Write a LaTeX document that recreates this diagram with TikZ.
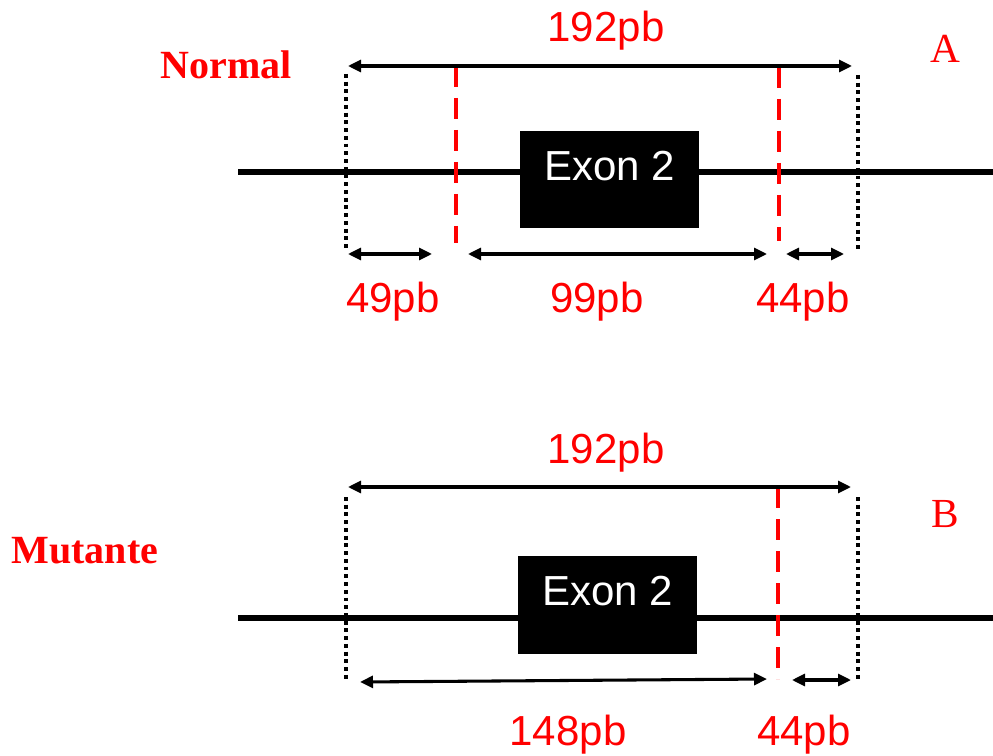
\documentclass[tikz,border=0pt]{standalone}
\usepackage{fontspec}
\setmainfont{Liberation Serif}
\setsansfont{Liberation Sans}
\usetikzlibrary{arrows.meta}
\definecolor{lbl}{RGB}{255,0,0}
\tikzset{
  px/.style={x=0.75pt,y=-0.75pt},
  dna/.style={line width=5pt,black},
  dimarrow/.style={line width=2.3pt,black,{Triangle[length=9.75pt,width=9pt]}-{Triangle[length=9.75pt,width=9pt]}},
  cutline/.style={line width=3pt,lbl,dash pattern=on 16pt off 8pt},
  boundline/.style={line width=2.9pt,black,dash pattern=on 2.9pt off 2.9pt},
  exonbox/.style={fill=black,draw=none,minimum width=134.25pt,minimum height=73pt,inner sep=0pt},
  exontext/.style={anchor=base,text=white,font=\sffamily\fontsize{31.5pt}{36pt}\selectfont,inner sep=0pt},
  sizelabel/.style={anchor=base,text=lbl,font=\sffamily\fontsize{31.5pt}{36pt}\selectfont,inner sep=0pt},
  rowlabel/.style={anchor=base,text=lbl,font=\bfseries\fontsize{30pt}{34pt}\selectfont,inner sep=0pt},
  panellabel/.style={anchor=base,text=lbl,font=\fontsize{31pt}{34pt}\selectfont,inner sep=0pt}
}
\begin{document}
\begin{tikzpicture}[px]
\useasboundingbox[fill=white] (0,0) rectangle (993,756);
% ---------------- Panel A ----------------
\coordinate (lA1) at (238,172); \coordinate (lA2) at (993,172);
\draw[dna] (lA1) -- (lA2);
\node[exonbox] (exA) at (609.5,179.5) {};
\node[exontext] (exAt) at (610,181) {Exon 2};
% boundaries
\coordinate (dAl1) at (346,74); \coordinate (dAl2) at (346,251);
\coordinate (dAr1) at (858,75); \coordinate (dAr2) at (858,251);
\draw[boundline] (dAl1) -- (dAl2);
\draw[boundline] (dAr1) -- (dAr2);
% cut sites
\coordinate (cAl1) at (456,66); \coordinate (cAl2) at (456,243);
\coordinate (cAr1) at (779,67); \coordinate (cAr2) at (779,241);
\draw[cutline] (cAl1) -- (cAl2);
\draw[cutline] (cAr1) -- (cAr2);
% dimension arrows
\coordinate (tA1) at (348,66); \coordinate (tA2) at (852,66);
\draw[dimarrow] (tA1) -- (tA2);
\coordinate (bA1) at (348,254); \coordinate (bA2) at (432,254);
\coordinate (bA3) at (468,254); \coordinate (bA4) at (767,254);
\coordinate (bA5) at (786,254); \coordinate (bA6) at (844,254);
\draw[dimarrow] (bA1) -- (bA2);
\draw[dimarrow] (bA3) -- (bA4);
\draw[dimarrow] (bA5) -- (bA6);
% labels
\node[sizelabel] (sA0) at (606,42) {192pb};
\node[sizelabel] (sA1) at (393,312) {49pb};
\node[sizelabel] (sA2) at (597,312) {99pb};
\node[sizelabel] (sA3) at (803,312) {44pb};
\node[rowlabel] (rA) at (226,79) {Normal};
\node[panellabel] (pA) at (945,63) {A};
% ---------------- Panel B ----------------
\coordinate (lB1) at (238,618); \coordinate (lB2) at (993,618);
\draw[dna] (lB1) -- (lB2);
\node[exonbox] (exB) at (607.5,605) {};
\node[exontext] (exBt) at (608,605) {Exon 2};
\coordinate (dBl1) at (346,497); \coordinate (dBl2) at (346,679);
\coordinate (dBr1) at (858,497); \coordinate (dBr2) at (858,679);
\draw[boundline] (dBl1) -- (dBl2);
\draw[boundline] (dBr1) -- (dBr2);
\coordinate (cBr1) at (778,487); \coordinate (cBr2) at (778,679);
\draw[cutline] (cBr1) -- (cBr2);
\coordinate (tB1) at (348,487); \coordinate (tB2) at (851,487);
\draw[dimarrow] (tB1) -- (tB2);
\coordinate (bB1) at (360,682); \coordinate (bB2) at (767,679);
\coordinate (bB3) at (792,680); \coordinate (bB4) at (851,680);
\draw[dimarrow] (bB1) -- (bB2);
\draw[dimarrow] (bB3) -- (bB4);
\node[sizelabel] (sB0) at (606,463) {192pb};
\node[sizelabel] (sB1) at (568,745) {148pb};
\node[sizelabel] (sB2) at (804,745) {44pb};
\node[rowlabel] (rB) at (85,563) {Mutante};
\node[panellabel] (pB) at (945,527) {B};
\end{tikzpicture}
\end{document}
